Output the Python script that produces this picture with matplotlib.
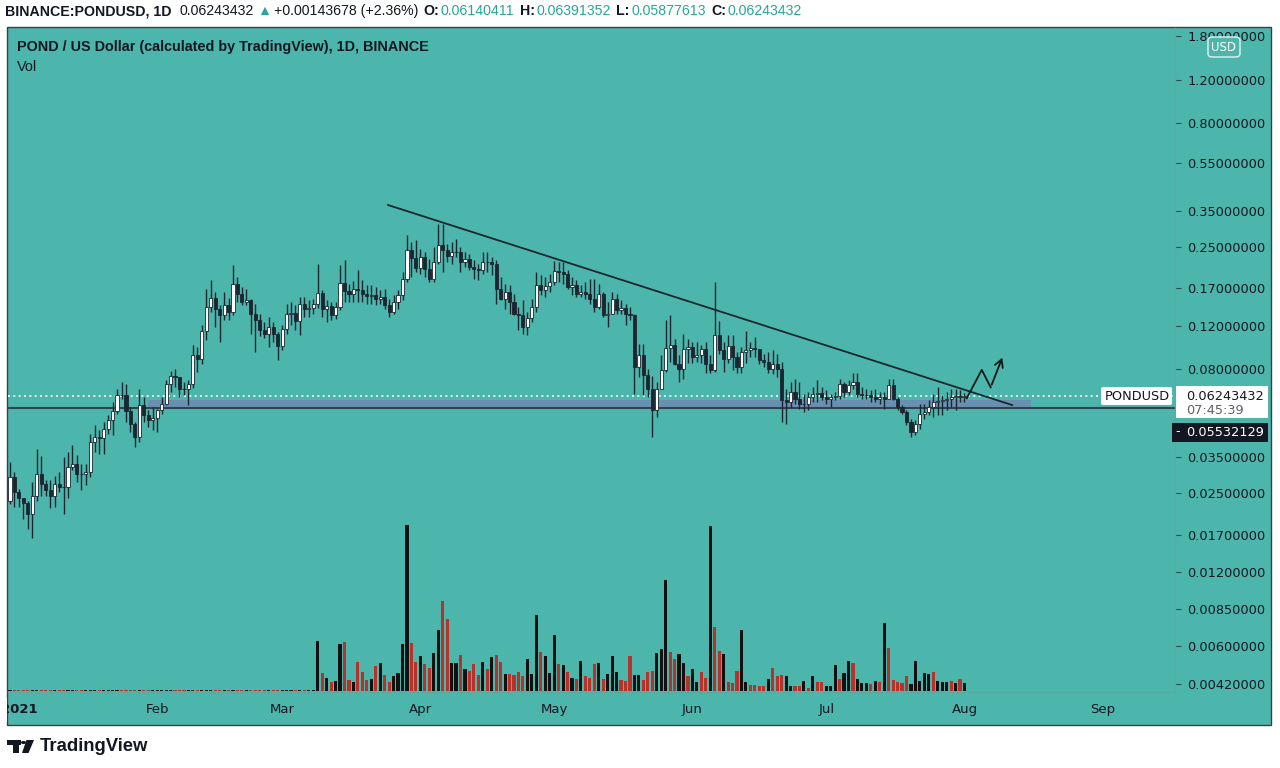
import numpy as np
import pandas as pd
import matplotlib
matplotlib.use("Agg")
import matplotlib.pyplot as plt
import matplotlib.dates as mdates
from matplotlib.patches import Rectangle, FancyBboxPatch, Polygon, Circle
from matplotlib.ticker import NullLocator, NullFormatter

# daily candles, first one is 2020-12-30
first_open = 0.0232
closes = [
    .0292, .0254, .0239, .0228, .0207, .0243, .0300, .0274, .0259, .0243,
    .0274, .0266, .0265, .0321, .0330, .0300, .0299, .0306, .0405, .0425,
    .0421, .0458, .0498, .0541, .0628, .0626, .0541, .0480, .0425, .0572,
    .0522, .0498, .0507, .0546, .0578, .0696, .0750, .0743, .0664, .0662,
    .0696, .0912, .0879, .1142, .1428, .1554, .1403, .1325, .1456, .1363,
    .1770, .1612, .1496, .1524, .1338, .1264, .1152, .1110, .1185, .1108,
    .0993, .1163, .1338, .1350, .1253, .1468, .1403, .1415, .1468, .1627,
    .1403, .1441, .1325, .1428, .1786, .1658, .1612, .1690, .1674, .1612,
    .1583, .1597, .1539, .1568, .1456, .1363, .1496, .1597, .1854, .2431,
    .2255, .2055, .2277, .2036, .1854, .2173, .2547, .2431, .2298, .2386,
    .2380, .2173, .2235, .2074, .2036, .2017, .2173, .2170, .2133, .1690,
    .1539, .1643, .1496, .1338, .1325, .1185, .1290, .1428, .1753, .1674,
    .1737, .1803, .1998, .1980, .1944, .1721, .1753, .1612, .1643, .1610,
    .1539, .1428, .1612, .1325, .1338, .1539, .1390, .1415, .1338, .1325,
    .0816, .0912, .0757, .0664, .0546, .0664, .0793, .0975, .1002, .0839,
    .0801, .0966, .0983, .0896, .0912, .0966, .0839, .0793, .1101, .0956,
    .0879, .0993, .0896, .0816, .0938, .0956, .0975, .0966, .0871, .0855,
    .0801, .0839, .0801, .0600, .0589, .0646, .0605, .0578, .0577, .0616,
    .0634, .0640, .0616, .0605, .0617, .0622, .0696, .0646, .0690, .0709,
    .0634, .0628, .0626, .0616, .0605, .0616, .0605, .0690, .0605, .0562,
    .0536, .0489, .0445, .0480, .0527, .0536, .0562, .0589, .0592, .0600,
    .0605, .0616, .0620, .06140411, .06243432]
highs = [
    .0335, .0306, .0261, .0239, .0232, .0279, .0380, .0355, .0284, .0284,
    .0295, .0306, .0352, .0369, .0394, .0359, .0330, .0330, .0437, .0475,
    .0453, .0489, .0522, .0589, .0664, .0709, .0696, .0562, .0489, .0664,
    .0616, .0546, .0562, .0551, .0616, .0723, .0786, .0801, .0743, .0709,
    .0723, .1002, .0983, .1208, .1690, .1838, .1643, .1456, .1643, .1554,
    .2112, .1890, .1721, .1690, .1539, .1468, .1338, .1242, .1301, .1242,
    .1131, .1208, .1468, .1496, .1456, .1568, .1568, .1524, .1539, .2133,
    .1674, .1524, .1496, .1496, .2112, .2214, .1770, .1820, .2017, .1838,
    .1753, .1753, .1721, .1674, .1690, .1539, .1597, .1674, .1980, .2797,
    .2619, .2671, .2455, .2386, .2235, .2500, .3100, .3100, .2570, .2619,
    .2694, .2500, .2386, .2343, .2214, .2133, .2386, .2386, .2277, .2214,
    .1890, .1770, .1753, .1612, .1428, .1524, .1363, .1539, .1980, .1926,
    .1890, .1944, .2193, .2173, .2173, .2017, .1890, .1838, .1753, .1803,
    .1854, .1854, .1770, .1643, .1496, .1643, .1612, .1524, .1468, .1428,
    .1338, .1011, .1011, .0801, .0750, .0709, .0912, .1264, .1325, .1060,
    .0912, .1110, .1060, .1031, .1031, .1002, .1031, .0912, .1803, .1253,
    .1031, .1101, .1101, .0938, .0983, .1142, .1031, .1080, .0966, .0922,
    .0938, .0956, .0922, .0855, .0664, .0709, .0730, .0709, .0634, .0646,
    .0677, .0723, .0677, .0658, .0634, .0646, .0730, .0709, .0723, .0771,
    .0771, .0677, .0664, .0658, .0664, .0646, .0646, .0730, .0730, .0616,
    .0572, .0546, .0503, .0498, .0578, .0578, .0600, .0634, .0677, .0628,
    .0646, .0664, .0664, .0658, .06391352]
lows = [
    .0226, .0221, .0221, .0196, .0179, .0164, .0232, .0243, .0243, .0217,
    .0221, .0254, .0207, .0239, .0312, .0279, .0259, .0271, .0292, .0369,
    .0362, .0362, .0437, .0433, .0527, .0605, .0489, .0445, .0387, .0405,
    .0489, .0466, .0453, .0445, .0527, .0572, .0646, .0677, .0616, .0628,
    .0572, .0671, .0778, .0839, .1050, .1363, .1185, .1030, .1264, .1264,
    .1325, .1496, .1456, .1456, .1110, .0938, .1090, .1070, .0983, .1030,
    .0871, .0956, .1110, .1208, .1152, .1101, .1301, .1301, .1338, .1415,
    .1301, .1242, .1264, .1277, .1390, .1496, .1496, .1496, .1496, .1496,
    .1468, .1468, .1456, .1468, .1403, .1301, .1338, .1403, .1524, .1803,
    .1890, .1980, .1944, .1890, .1803, .1803, .2133, .1980, .2173, .2133,
    .2277, .1980, .2074, .2017, .1854, .1838, .1944, .1980, .1926, .1468,
    .1524, .1403, .1338, .1325, .1152, .1110, .1101, .1242, .1363, .1597,
    .1568, .1643, .1753, .1803, .1770, .1690, .1597, .1568, .1568, .1539,
    .1468, .1363, .1403, .1301, .1185, .1338, .1338, .1338, .1208, .1264,
    .0634, .0743, .0628, .0616, .0425, .0512, .0664, .0778, .0855, .0830,
    .0709, .0730, .0847, .0847, .0855, .0847, .0771, .0771, .0778, .0922,
    .0778, .0847, .0793, .0771, .0771, .0847, .0896, .0896, .0839, .0816,
    .0771, .0764, .0743, .0489, .0480, .0562, .0577, .0551, .0536, .0546,
    .0589, .0589, .0600, .0578, .0562, .0600, .0605, .0616, .0628, .0664,
    .0616, .0605, .0605, .0589, .0589, .0578, .0551, .0605, .0600, .0546,
    .0527, .0475, .0425, .0433, .0458, .0503, .0522, .0512, .0522, .0522,
    .0546, .0562, .0546, .0589, .05877613]

# volume from 2021-03-08 on (earlier days are ~0), k = black bar, r = red bar
vol_early = 0.12
volumes = [
    4.97, 1.83, 1.30, 0.90, 1.03, 4.67, 4.90, 1.07, 0.90, 2.93,
    1.87, 1.07, 1.17, 2.53, 2.80, 1.60, 0.93, 1.50, 1.83, 4.73,
    16.57, 4.77, 2.90, 3.53, 2.73, 2.33, 3.77, 6.07, 9.03, 7.17,
    2.83, 2.83, 3.57, 2.17, 1.97, 2.67, 1.63, 2.87, 2.17, 3.37,
    3.60, 2.93, 1.73, 1.73, 1.63, 1.90, 1.50, 3.17, 1.73, 7.57,
    3.90, 3.50, 1.77, 5.57, 2.70, 2.57, 1.87, 1.33, 1.17, 3.03,
    1.50, 1.30, 2.67, 2.80, 1.23, 1.70, 3.50, 1.87,
    1.07, 0.97, 3.53, 1.57, 1.57, 1.07, 1.87, 2.00, 3.83, 4.23,
    11.07, 3.90, 3.23, 3.67, 2.83, 1.50, 2.23, 0.93, 1.90, 1.33,
    16.47, 6.40, 4.00, 3.67, 0.90, 0.83, 2.00, 6.07, 0.93, 0.63,
    0.63, 0.47, 0.53, 1.23, 2.33, 1.50, 1.63, 1.50, 0.47, 0.50,
    0.50, 0.97, 0.33, 1.47, 0.93, 0.87, 0.50, 0.50, 2.57, 1.17,
    1.83, 3.03, 2.80, 1.23, 0.80, 0.80, 0.67, 1.03, 0.90, 6.80,
    4.27, 1.07, 0.90, 0.77, 1.50, 0.67, 3.03, 1.03, 1.83, 1.70,
    1.93, 0.97, 0.93, 0.90, 0.97, 0.80, 1.20, 0.77]
vol_colors = ("krkrkkrrkr" "rrkrkrrkkk" "krrkrrkkrr" "kkrkrrrkrk" "rrkrrrrkkk"
              "rkkkrkrkrk" "rrrkrkkk"
              "rrrkkrrrkk" "krrkkrkkrr" "krrkrrrkkr" "rrrkrrrkkr" "rkrkrrkkkr"
              "kkrkkkrkrk" "rrrrrkkkkk" "rkkkrkrk")

price_ticks = [1.8, 1.2, 0.8, 0.55, 0.35, 0.25, 0.17, 0.12, 0.08,
               0.035, 0.025, 0.017, 0.012, 0.0085, 0.006, 0.0042]
last_price = 0.06243432
support = 0.05532129
zone_top = 0.0598
zone_dates = ["2021-01-30", "2021-08-16"]
trend_dates = ["2021-03-24 18:00", "2021-08-11 17:00"]
trend_prices = [0.3711, 0.0571]
path_dates = ["2021-08-01 12:00", "2021-08-04 21:00", "2021-08-06 21:00", "2021-08-09 17:00"]
path_prices = [0.0608, 0.0794, 0.0674, 0.0912]

TEAL = "#4db6ac"
DARK = "#1b2631"
TXT = "#131722"
W, H = 1280, 768

def fx(px):
    return px / W

def fy(py):
    return 1 - py / H

dates = pd.date_range("2020-12-30", periods=len(closes), freq="D")
x = mdates.date2num(dates)
c = np.array(closes)
o = np.array([first_open] + closes[:-1])
h = np.maximum(np.array(highs), np.maximum(o, c))
l = np.minimum(np.array(lows), np.minimum(o, c))
up = c >= o

n_early = len(closes) - len(volumes)
vol = np.array([vol_early] * n_early + volumes)
vcol = ["#111111" if u else "#b5332b" for u in up[:n_early]]
vcol += ["#111111" if f == "k" else "#b5332b" for f in vol_colors]

fig = plt.figure(figsize=(12.8, 7.68), dpi=100)
fig.patch.set_facecolor("white")
fig.add_artist(Rectangle((fx(7), fy(725)), fx(1271) - fx(7), fy(27) - fy(725),
                         transform=fig.transFigure, facecolor=TEAL,
                         edgecolor="#3a3f47", lw=1, zorder=-1))

rect = [fx(8), fy(692), fx(1175) - fx(8), fy(28) - fy(692)]
axv = fig.add_axes(rect)
ax = fig.add_axes(rect, sharex=axv)
for a in (axv, ax):
    a.patch.set_visible(False)

axv.bar(x, vol, width=0.7, color=vcol, linewidth=0)
axv.set_ylim(-0.12, 66.4)
axv.axis("off")

ax.set_yscale("log")
ax.set_ylim(0.003897, 1.944)
ax.set_xlim(x[0] - 0.45, x[0] + 261.2)

# support zone and lines
zx = mdates.date2num(pd.to_datetime(zone_dates))
ax.fill_between(zx, support, zone_top, color="#6a90b0", lw=0, zorder=1)
ax.axhline(support, color="#2c4650", lw=1.5, zorder=2)
ax.axhline(last_price, color="white", lw=1.2, ls=(0, (1.2, 2.0)), zorder=2)

# candles
ax.vlines(x, l, h, color=DARK, lw=1.0, zorder=3)
body = np.maximum(np.abs(c - o), c * 0.002)
ax.bar(x, body, bottom=np.minimum(o, c), width=0.7,
       color=np.where(up, "white", DARK), edgecolor=DARK, linewidth=0.6, zorder=4)

# drawings
tx = mdates.date2num(pd.to_datetime(trend_dates))
ax.plot(tx, trend_prices, color=DARK, lw=1.3, zorder=5)
px_ = mdates.date2num(pd.to_datetime(path_dates))
ax.plot(px_[:-1], path_prices[:-1], color="#0f1a17", lw=1.3, zorder=5)
ax.annotate("", xy=(px_[-1], path_prices[-1]), xytext=(px_[-2], path_prices[-2]),
            arrowprops=dict(arrowstyle="->,head_length=0.55,head_width=0.3",
                            color="#0f1a17", lw=1.3), zorder=5)

# axes look
for s in ("left", "top"):
    ax.spines[s].set_visible(False)
for s in ("right", "bottom"):
    ax.spines[s].set_color("#5aaaa1")
    ax.spines[s].set_linewidth(1)

ax.yaxis.tick_right()
ax.set_yticks(price_ticks)
ax.set_yticklabels([f"{v:.8f}" for v in price_ticks])
ax.yaxis.set_minor_locator(NullLocator())
ax.yaxis.set_minor_formatter(NullFormatter())
ax.tick_params(axis="y", length=4, width=0.8, color="#2d4a50", labelsize=9.3,
               labelcolor=TXT, pad=5)

month_ticks = pd.date_range("2021-01-01", "2021-09-01", freq="MS")
ax.set_xticks(mdates.date2num(month_ticks))
ax.set_xticklabels(["2021" if d.month == 1 else d.strftime("%b") for d in month_ticks])
ax.get_xticklabels()[0].set_fontweight("bold")
ax.tick_params(axis="x", length=0, pad=8, labelsize=9.5, labelcolor=TXT)
# the year label is cut by the panel edge, as in TradingView
fig.add_artist(Rectangle((0, fy(722)), fx(6.5), 24 / H, transform=fig.transFigure,
                         facecolor="white", edgecolor="none", zorder=8))

# header line
fig.canvas.draw()
r = fig.canvas.get_renderer()
pieces = [("BINANCE:PONDUSD, 1D", TXT, "bold", 8),
          ("0.06243432", TXT, "normal", 3),
          ("\u25B2", "#26a69a", "normal", 3),
          ("+0.00143678 (+2.36%)", TXT, "normal", 5),
          ("O:", TXT, "bold", 2), ("0.06140411", "#26a69a", "normal", 5),
          ("H:", TXT, "bold", 2), ("0.06391352", "#26a69a", "normal", 5),
          ("L:", TXT, "bold", 2), ("0.05877613", "#26a69a", "normal", 5),
          ("C:", TXT, "bold", 2), ("0.06243432", "#26a69a", "normal", 5)]
xpos = 5
for txt, col, wt, gap in pieces:
    t = fig.text(fx(xpos), fy(11), txt, color=col, fontweight=wt, fontsize=10.2,
                 family=["Liberation Sans", "DejaVu Sans"], va="center", ha="left")
    xpos += t.get_window_extent(renderer=r).width + gap

fig.text(fx(17), fy(47), "POND / US Dollar (calculated by TradingView), 1D, BINANCE",
         color=TXT, fontweight="bold", fontsize=10.4, family="Liberation Sans", va="center")
fig.text(fx(17), fy(67), "Vol", color=TXT, fontsize=10.4, family="Liberation Sans", va="center")

# price scale labels
fig.add_artist(FancyBboxPatch((fx(1101), fy(405)), fx(71), 18 / H,
                              boxstyle="round,pad=0,rounding_size=0.002",
                              transform=fig.transFigure, facecolor="white",
                              edgecolor="none", zorder=6))
fig.text(fx(1137), fy(396), "PONDUSD", color=TXT, fontsize=9.3, ha="center",
         va="center", zorder=7)
fig.add_artist(Rectangle((fx(1176), fy(418)), fx(92), 32 / H, transform=fig.transFigure,
                         facecolor="white", edgecolor="none", zorder=6))
fig.text(fx(1186), fy(396), "0.06243432", color=TXT, fontsize=9.3, va="center", zorder=7)
fig.text(fx(1186), fy(410), "07:45:39", color="#5d606b", fontsize=9.3, va="center", zorder=7)
fig.add_artist(Rectangle((fx(1172), fy(442)), fx(96), 19 / H, transform=fig.transFigure,
                         facecolor=TXT, edgecolor="none", zorder=6))
fig.text(fx(1186), fy(432), "0.05532129", color="white", fontsize=9.3, va="center", zorder=7)
fig.text(fx(1175), fy(432), "-", color="white", fontsize=9.3, va="center", zorder=7)

fig.add_artist(FancyBboxPatch((fx(1208), fy(57)), fx(32), 20 / H,
                              boxstyle="round,pad=0,rounding_size=0.004",
                              transform=fig.transFigure, facecolor=TEAL,
                              edgecolor="#e6f4f2", lw=1, zorder=6))
fig.text(fx(1224), fy(47.5), "USD", color="white", fontsize=8.5, ha="center",
         va="center", zorder=7)

# TradingView logo
logo = "#131722"
fig.add_artist(Rectangle((fx(7), fy(745)), fx(14), 5 / H, transform=fig.transFigure,
                         facecolor=logo, edgecolor="none"))
fig.add_artist(Rectangle((fx(13), fy(753)), fx(6), 13 / H, transform=fig.transFigure,
                         facecolor=logo, edgecolor="none"))
fig.add_artist(Circle((fx(23.5), fy(742.5)), 2.6 / W, transform=fig.transFigure,
                      facecolor=logo, edgecolor="none"))
fig.add_artist(Polygon([(fx(26.5), fy(740)), (fx(34), fy(740)), (fx(28.5), fy(753)),
                        (fx(22), fy(753))], closed=True, transform=fig.transFigure,
                       facecolor=logo, edgecolor="none"))
fig.text(fx(40), fy(746.5), "TradingView", color=logo, fontsize=13.3, fontweight="bold",
         family="Liberation Sans", va="center")

fig.savefig("out.png", dpi=100, facecolor="white")
